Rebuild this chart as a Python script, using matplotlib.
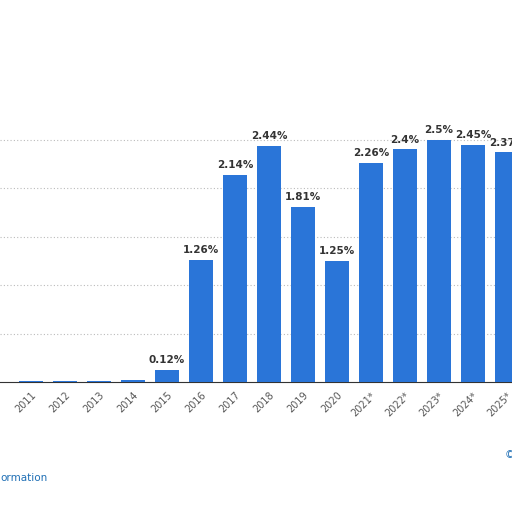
import matplotlib
matplotlib.use("Agg")
import matplotlib.pyplot as plt

years = ["2011","2012","2013","2014","2015","2016","2017","2018","2019","2020","2021*","2022*","2023*","2024*","2025*"]
values = [0.01,0.01,0.01,0.02,0.12,1.26,2.14,2.44,1.81,1.25,2.26,2.4,2.5,2.45,2.37]
labels = ["","","","","0.12%","1.26%","2.14%","2.44%","1.81%","1.25%","2.26%","2.4%","2.5%","2.45%","2.37%"]

fig = plt.figure(figsize=(5.12,5.12), dpi=100)
ax = fig.add_axes([0, 0.254, 1, 0.473*2.7/2.5])
x = range(len(years))
ax.bar(x, values, width=0.7, color="#2a75d8", zorder=3)
for xi, v, l in zip(x, values, labels):
    if l:
        ax.text(xi, v+0.05, l, ha="center", va="bottom", fontsize=7.5, fontweight="bold", color="#333333")
ax.set_xlim(-0.91, 14.15)
ax.set_ylim(0, 2.7)
ax.set_yticks([0.5,1,1.5,2,2.5])
ax.yaxis.grid(True, linestyle=(0,(1,2)), color="#bbbbbb", zorder=0)
ax.tick_params(axis="y", left=False, labelleft=False)
ax.tick_params(axis="x", length=0, pad=6)
ax.set_xticks(list(x))
ax.set_xticklabels(years, rotation=45, ha="right", rotation_mode="anchor", fontsize=7, color="#555555")
for s in ["top","right","left"]:
    ax.spines[s].set_visible(False)
ax.spines["bottom"].set_color("#333333")
fig.text(0.0, 0.066, "ormation", color="#1f6fb5", fontsize=7.5, va="center")
fig.text(0.985, 0.111, "©", color="#1f6fb5", fontsize=7.5, va="center")
fig.savefig("out.png", dpi=100)
